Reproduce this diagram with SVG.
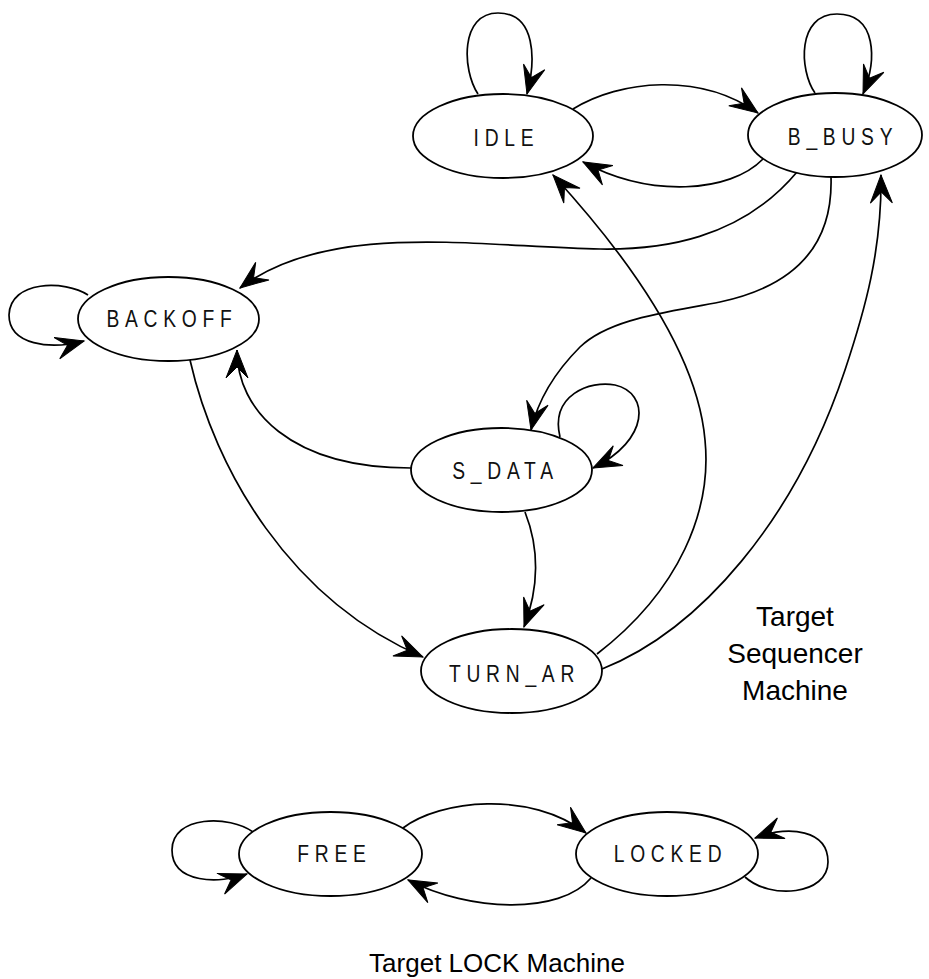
<svg xmlns="http://www.w3.org/2000/svg" width="929" height="979" viewBox="0 0 929 979">
<style>
.st ellipse{fill:#fff;stroke:#000;stroke-width:1.8}
.lbl{font-family:"Liberation Sans",Arial,sans-serif;font-size:23.5px;letter-spacing:7px;text-anchor:middle;fill:#111}
.cap{font-family:"Liberation Sans",Arial,sans-serif;text-anchor:middle;fill:#000}
#edges path{fill:none;stroke:#000;stroke-width:1.7;marker-end:url(#ah)}
</style>
<defs>
<marker id="ah" markerUnits="userSpaceOnUse" markerWidth="32" markerHeight="26" refX="30" refY="13" orient="auto" overflow="visible">
<path d="M30,13 L2,2 L13,13 L2,24 Z" fill="#000" stroke="#000" stroke-width="1"/>
</marker>
</defs>
<rect width="929" height="979" fill="#fff"/>
<g id="edges">
<path d="M478,94 C462,70 460,13 498,13 C536,13 536,60 527,94"/>
<path d="M815,93 C799,70 797,14 837,14 C877,14 877,60 863,94"/>
<path d="M573,109 C620,80 700,72 758,113"/>
<path d="M763,159 C730,193 650,198 583,162"/>
<path d="M797,172 C740,240 660,250 600,249 C480,247 330,220 240,288"/>
<path d="M831,177 C833,240 800,285 720,302 C670,312 610,318 580,347 C555,372 538,400 531,430"/>
<path d="M88,295 C65,280 10,280 9,315 C9,345 50,350 84,341"/>
<path d="M560,437 C550,395 590,380 615,385 C650,393 650,440 593,468"/>
<path d="M411,468 C290,468 237,410 237,350"/>
<path d="M190,360 C215,470 290,600 423,657"/>
<path d="M525,512 C540,550 538,590 524,627"/>
<path d="M597,654 C680,590 712,510 705,440 C698,360 640,270 553,175"/>
<path d="M602,669 C700,630 795,520 845,370 C865,310 882,250 881,175"/>
<path d="M253,832 C230,815 172,815 172,850 C172,884 220,884 247,874"/>
<path d="M403,828 C440,800 530,790 586,833"/>
<path d="M591,878 C560,915 470,912 408,880"/>
<path d="M745,877 C770,900 828,895 828,862 C828,830 790,825 755,838"/>
</g>
<g id="IDLE" class="st"><ellipse cx="503" cy="136" rx="90" ry="42"/><text class="lbl" transform="translate(506.5,145.5) scale(0.82,1)">IDLE</text></g>
<g id="B_BUSY" class="st"><ellipse cx="835" cy="135" rx="87" ry="42"/><text class="lbl" transform="translate(843,145) scale(0.82,1)">B_BUSY</text></g>
<g id="BACKOFF" class="st"><ellipse cx="168.5" cy="319" rx="90.5" ry="42"/><text class="lbl" transform="translate(172,327) scale(0.82,1)">BACKOFF</text></g>
<g id="S_DATA" class="st"><ellipse cx="501.5" cy="470" rx="90.5" ry="42"/><text class="lbl" transform="translate(505.5,479) scale(0.82,1)">S_DATA</text></g>
<g id="TURN_AR" class="st"><ellipse cx="511.5" cy="671" rx="90.5" ry="42"/><text class="lbl" transform="translate(514.5,682) scale(0.82,1)">TURN_AR</text></g>
<g id="FREE" class="st"><ellipse cx="330.5" cy="854" rx="91.5" ry="42"/><text class="lbl" transform="translate(334.5,862) scale(0.82,1)">FREE</text></g>
<g id="LOCKED" class="st"><ellipse cx="667" cy="854" rx="91" ry="42"/><text class="lbl" transform="translate(670.5,862) scale(0.82,1)">LOCKED</text></g>
<g id="seq-caption">
<text class="cap" x="795" y="626" font-size="28">Target</text>
<text class="cap" x="795" y="663" font-size="28">Sequencer</text>
<text class="cap" x="795" y="700" font-size="28">Machine</text>
</g>
<g id="lock-caption">
<text class="cap" x="497" y="972" font-size="26">Target LOCK Machine</text>
</g>
</svg>
